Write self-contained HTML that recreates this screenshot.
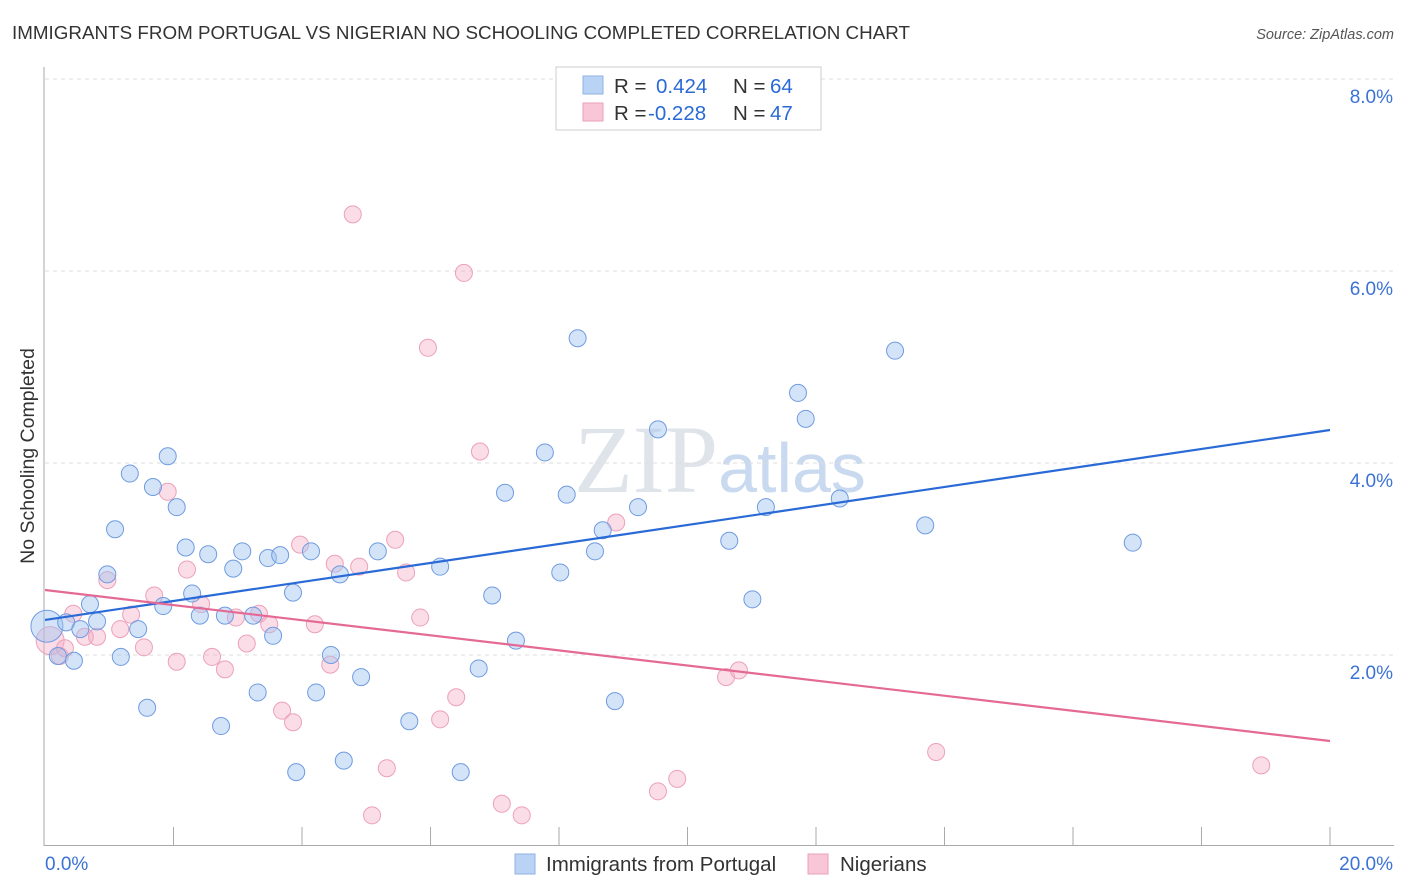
<!DOCTYPE html>
<html><head><meta charset="utf-8"><style>
body{margin:0;background:#fff;font-family:"Liberation Sans",sans-serif;}
svg{display:block}
</style></head><body>
<svg width="1406" height="892">
<text x="12" y="39" font-size="18.8" fill="#333" textLength="898">IMMIGRANTS FROM PORTUGAL VS NIGERIAN NO SCHOOLING COMPLETED CORRELATION CHART</text>
<text x="1394" y="39" font-size="14.5" fill="#555" font-style="italic" text-anchor="end">Source: ZipAtlas.com</text>
<text x="34" y="456" font-size="19.5" fill="#333" text-anchor="middle" transform="rotate(-90 34 456)">No Schooling Completed</text>
<text x="720" y="492" font-size="96" fill="#dfe3ea" text-anchor="middle" font-family="Liberation Serif,serif">ZIP<tspan font-family="Liberation Sans,sans-serif" font-size="70" fill="#c9d9ef">atlas</tspan></text>
<g id="grid"></g><g id="axes"></g>
<g id="pts"></g><g id="lines"></g>
<g>
<rect x="556" y="67" width="265" height="63" fill="#fff" stroke="#ccc"/>
<rect x="583" y="76" width="20" height="18" fill="#b9d3f5" stroke="#8fb2e3"/>
<rect x="583" y="103" width="20" height="18" fill="#f8c6d6" stroke="#eaa0b8"/>
<text x="614" y="93" font-size="20.5" fill="#333">R = <tspan fill="#2a6ad6" x="656">0.424</tspan><tspan x="733">N =</tspan><tspan fill="#2a6ad6" x="770">64</tspan></text>
<text x="614" y="120" font-size="20.5" fill="#333">R = <tspan fill="#2a6ad6" x="648">-0.228</tspan><tspan x="733">N =</tspan><tspan fill="#2a6ad6" x="770">47</tspan></text>
</g>
<g>
<rect x="515" y="854" width="20" height="20" fill="#b9d3f5" stroke="#8fb2e3"/>
<text x="546" y="871" font-size="20.5" fill="#333">Immigrants from Portugal</text>
<rect x="808" y="854" width="20" height="20" fill="#f8c6d6" stroke="#eaa0b8"/>
<text x="840" y="871" font-size="20.5" fill="#333">Nigerians</text>
</g>
</svg>
<script>
const xTicks=[0,20];
const yTicks=[2,4,6,8];
const blueX=[0.03,0.2,0.33,0.45,0.55,0.7,0.81,0.97,1.09,1.18,1.32,1.45,1.59,1.68,1.84,1.91,2.05,2.19,2.29,2.41,2.54,2.8,2.74,2.93,3.07,3.24,3.31,3.47,3.55,3.66,3.86,3.91,4.14,4.22,4.45,4.59,4.65,4.92,5.18,5.67,6.15,6.47,6.75,6.96,7.16,7.33,7.78,8.02,8.12,8.29,8.56,8.68,8.87,9.23,9.54,10.65,11.01,11.22,11.72,11.84,12.37,13.23,13.7,16.93];
const blueY=[2.30,1.99,2.34,1.94,2.27,2.53,2.35,2.84,3.31,1.98,3.89,2.27,1.45,3.75,2.51,4.07,3.54,3.12,2.64,2.41,3.05,2.41,1.26,2.90,3.08,2.41,1.61,3.01,2.20,3.04,2.65,0.78,3.08,1.61,2.0,2.84,0.90,1.77,3.08,1.31,2.92,0.78,1.86,2.62,3.69,2.15,4.11,2.86,3.67,5.30,3.08,3.30,1.52,3.54,4.35,3.19,2.58,3.54,4.73,4.46,3.63,5.17,3.35,3.17];
const pinkX=[0.08,0.23,0.31,0.44,0.62,0.81,0.97,1.17,1.34,1.54,1.70,1.91,2.05,2.21,2.43,2.60,2.80,2.97,3.14,3.33,3.49,3.69,3.86,3.97,4.20,4.44,4.51,4.79,4.89,5.09,5.32,5.45,5.62,5.84,5.96,6.15,6.40,6.52,6.77,7.11,7.42,8.89,9.54,9.84,10.6,10.8,13.87,18.93];
const pinkY=[2.15,1.99,2.07,2.43,2.19,2.19,2.78,2.27,2.42,2.08,2.62,3.70,1.93,2.89,2.53,1.98,1.85,2.39,2.12,2.43,2.32,1.42,1.30,3.15,2.32,1.90,2.95,6.59,2.92,0.33,0.82,3.20,2.86,2.39,5.20,1.33,1.56,5.98,4.12,0.45,0.33,3.38,0.58,0.71,1.77,1.84,0.99,0.85];
const blueLine=[2.365,4.344], pinkLine=[2.677,1.104];
const NS='http://www.w3.org/2000/svg';
const sx=v=>45+v*64.25, sy=v=>847-v*96;
function mk(t,a,p){const e=document.createElementNS(NS,t);for(const k in a)e.setAttribute(k,a[k]);p.appendChild(e);return e;}
const grid=document.getElementById('grid'),axes=document.getElementById('axes');
yTicks.forEach(v=>{
 const l=mk('line',{x1:45,x2:1394,y1:sy(v),y2:sy(v),stroke:'#ddd','stroke-dasharray':'4,4'},grid);
 
 
 const t=mk('text',{x:1393,y:sy(v)+24,'font-size':19,fill:'#3b72d6','text-anchor':'end'},axes);
 t.textContent=v.toFixed(1)+'%';
 
 
});
mk('line',{x1:44,x2:44,y1:67,y2:846,stroke:'#aaa'},axes);
mk('line',{x1:44,x2:1394,y1:845.5,y2:845.5,stroke:'#aaa'},axes);
for(let i=1;i<=10;i++){const x=sx(i*2);mk('line',{x1:x,x2:x,y1:827,y2:845,stroke:'#aaa'},axes);}
xTicks.forEach((v,i)=>{
 const t=mk('text',{x:i?1393:45,y:870,'font-size':19,fill:'#3b72d6','text-anchor':i?'end':'start'},axes);
 t.textContent=v.toFixed(1)+'%';
 
 
});
const pts=document.getElementById('pts');
pinkX.forEach((x,i)=>{
 const c=mk('circle',{cx:sx(x),cy:sy(pinkY[i]),r:i==0?14:8.5,fill:'rgba(245,170,195,0.4)',stroke:'#eca0ba','stroke-width':1},pts);
 
 
});
blueX.forEach((x,i)=>{
 const c=mk('circle',{cx:sx(x),cy:sy(blueY[i]),r:i==0?16:8.5,fill:'rgba(160,195,240,0.45)',stroke:'#6f9be0','stroke-width':1},pts);
 
 
});
const lines=document.getElementById('lines');
const bl=mk('line',{x1:sx(0),y1:sy(blueLine[0]),x2:sx(20),y2:sy(blueLine[1]),stroke:'#2a6ad6','stroke-width':2.2},lines);


const pl=mk('line',{x1:sx(0),y1:sy(pinkLine[0]),x2:sx(20),y2:sy(pinkLine[1]),stroke:'#e46a95','stroke-width':2.2},lines);


</script>
</body></html>
